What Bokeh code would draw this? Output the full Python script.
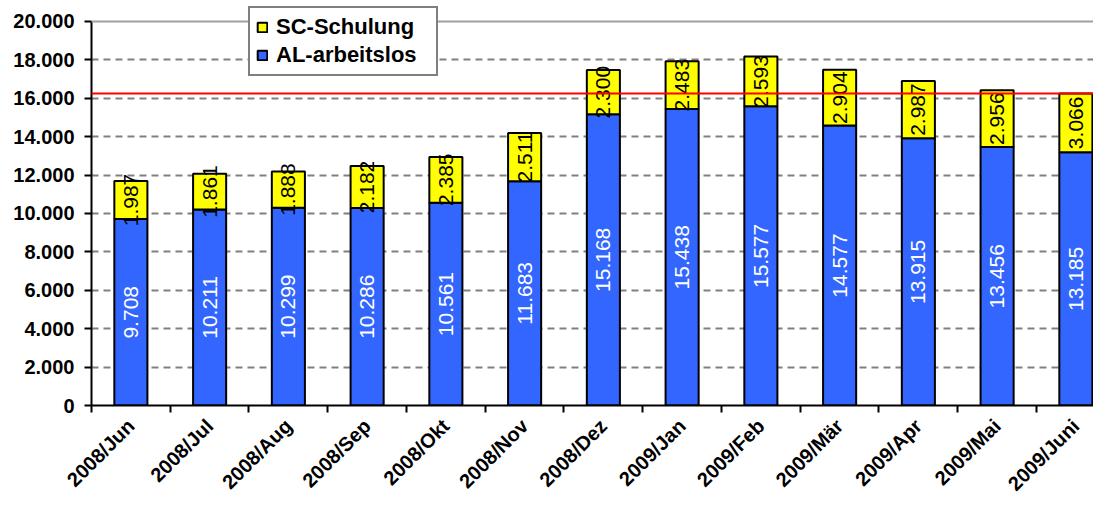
import math
from bokeh.plotting import figure
from bokeh.models import (ColumnDataSource, Span, FixedTicker, Legend, LegendItem, Range1d)
from bokeh.core.properties import value
from bokeh.embed import file_html
from bokeh.resources import INLINE

months = ["2008/Jun", "2008/Jul", "2008/Aug", "2008/Sep", "2008/Okt", "2008/Nov",
          "2008/Dez", "2009/Jan", "2009/Feb", "2009/Mär", "2009/Apr", "2009/Mai", "2009/Juni"]
al_arbeitslos = [9708, 10211, 10299, 10286, 10561, 11683, 15168, 15438, 15577, 14577, 13915, 13456, 13185]
sc_schulung = [1987, 1861, 1888, 2182, 2385, 2511, 2300, 2483, 2593, 2904, 2987, 2956, 3066]
y_ticks = list(range(0, 20001, 2000))

def fmt(v):
    return f"{v:,}".replace(",", ".")

xs = list(range(len(months)))
tops = [a + s for a, s in zip(al_arbeitslos, sc_schulung)]
src = ColumnDataSource(dict(
    x=xs, al=al_arbeitslos, sc=sc_schulung, top=tops,
    al_mid=[a / 2 for a in al_arbeitslos],
    sc_mid=[a + s / 2 for a, s in zip(al_arbeitslos, sc_schulung)],
    al_lbl=[fmt(v) for v in al_arbeitslos],
    sc_lbl=[fmt(v) for v in sc_schulung],
))

FONT = "Liberation Sans"
p = figure(width=1093, height=505, output_backend="svg", toolbar_location=None,
           x_range=Range1d(-0.5, 12.224), y_range=Range1d(0, 20933),
           min_border_left=91, min_border_top=3, min_border_bottom=98, min_border_right=0)
p.outline_line_color = None
p.xgrid.grid_line_color = None
p.ygrid.grid_line_color = "#808080"
p.ygrid.grid_line_width = 2
p.ygrid.grid_line_dash = "7 5"
p.ygrid.ticker = FixedTicker(ticks=y_ticks[:-1])

top_line = Span(location=20000, dimension="width", line_color="#a0a0a0", line_width=2)
p.add_layout(top_line)

r_al = p.vbar(x="x", bottom=0, top="al", width=0.42, source=src,
              fill_color="#3366FF", line_color="black", line_width=2)
r_sc = p.vbar(x="x", bottom="al", top="top", width=0.42, source=src,
              fill_color="#FFFF00", line_color="black", line_width=2)

p.text(x="x", y="al_mid", text="al_lbl", source=src, angle=math.pi / 2,
       text_align="center", text_baseline="middle", text_color="white",
       text_font=value(FONT), text_font_size=value("21px"))
p.text(x="x", y="sc_mid", text="sc_lbl", source=src, angle=math.pi / 2,
       text_align="center", text_baseline="middle", text_color="black",
       text_font=value(FONT), text_font_size=value("21px"))

red = Span(location=tops[-1], dimension="width", line_color="red", line_width=2)
p.add_layout(red)

# axes
p.yaxis.ticker = FixedTicker(ticks=y_ticks)
p.yaxis.bounds = (0, 20000)
p.yaxis.major_label_overrides = {v: fmt(v) for v in y_ticks}
p.yaxis.axis_line_width = 2
p.yaxis.axis_line_color = "black"
p.yaxis.major_tick_line_width = 2
p.yaxis.major_tick_out = 7
p.yaxis.major_tick_in = 0
p.yaxis.minor_tick_line_color = None
p.yaxis.major_label_text_font = FONT
p.yaxis.major_label_text_font_style = "bold"
p.yaxis.major_label_text_font_size = "20px"
p.yaxis.major_label_text_color = "black"
p.yaxis.major_label_standoff = 10

p.xaxis.ticker = FixedTicker(ticks=xs, minor_ticks=[i - 0.5 for i in range(len(months) + 1)])
p.xaxis.major_label_overrides = {i: m for i, m in enumerate(months)}
p.xaxis.major_tick_line_color = None
p.xaxis.minor_tick_line_color = "black"
p.xaxis.minor_tick_line_width = 2
p.xaxis.minor_tick_out = 7
p.xaxis.minor_tick_in = 0
p.xaxis.axis_line_width = 2
p.xaxis.axis_line_color = "black"
p.xaxis.major_label_orientation = math.pi / 4
p.xaxis.major_label_text_font = FONT
p.xaxis.major_label_text_font_style = "bold"
p.xaxis.major_label_text_font_size = "20px"
p.xaxis.major_label_text_color = "black"
p.xaxis.major_label_standoff = 10

legend = Legend(items=[LegendItem(label="SC-Schulung", renderers=[r_sc]),
                       LegendItem(label="AL-arbeitslos", renderers=[r_al])],
                location=(157, 329))
legend.label_text_font = FONT
legend.label_text_font_style = "bold"
legend.label_text_font_size = "22px"
legend.label_text_color = "black"
legend.glyph_width = 12
legend.glyph_height = 12
legend.label_height = 22
legend.label_width = 154
legend.spacing = 2
legend.padding = 6
legend.margin = 0
legend.label_standoff = 8
legend.border_line_color = "black"
legend.border_line_width = 2
legend.background_fill_alpha = 1
p.add_layout(legend, "center")

open("out.html", "w").write(file_html(p, INLINE))
